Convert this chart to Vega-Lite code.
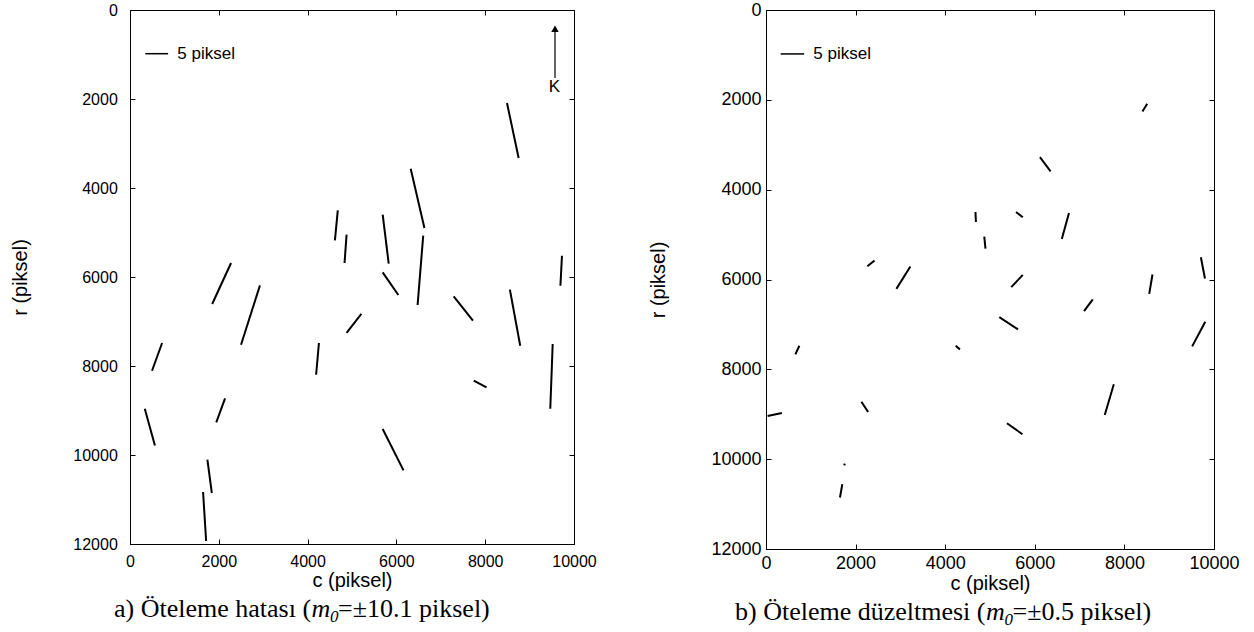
{
  "$schema": "https://vega.github.io/schema/vega-lite/v6.json",
  "autosize": {"type": "pad"},
  "padding": {"left": 10, "top": 0, "right": 0, "bottom": 0},
  "background": "white",
  "config": {
    "view": {"stroke": "#000", "strokeWidth": 1},
    "font": "Liberation Sans",
    "axis": {
      "grid": false,
      "labelFont": "Liberation Sans",
      "titleFont": "Liberation Sans",
      "labelColor": "#000",
      "titleColor": "#000",
      "domainColor": "#000",
      "tickColor": "#000",
      "titleFontWeight": "normal",
      "tickSize": -5,
      "labelFlush": false,
      "labelOverlap": false
    }
  },
  "datasets": {
    "a": [
      {"c1": 8491, "r1": 2090, "c2": 8753, "r2": 3326},
      {"c1": 6322, "r1": 3566, "c2": 6631, "r2": 4899},
      {"c1": 4680, "r1": 4503, "c2": 4615, "r2": 5178},
      {"c1": 4878, "r1": 5049, "c2": 4832, "r2": 5685},
      {"c1": 5691, "r1": 4600, "c2": 5827, "r2": 5701},
      {"c1": 6604, "r1": 5072, "c2": 6477, "r2": 6629},
      {"c1": 5691, "r1": 5897, "c2": 6043, "r2": 6404},
      {"c1": 9729, "r1": 5521, "c2": 9694, "r2": 6196},
      {"c1": 2276, "r1": 5685, "c2": 1851, "r2": 6607},
      {"c1": 2927, "r1": 6189, "c2": 2501, "r2": 7521},
      {"c1": 7290, "r1": 6436, "c2": 7724, "r2": 6982},
      {"c1": 8556, "r1": 6285, "c2": 8789, "r2": 7544},
      {"c1": 5211, "r1": 6831, "c2": 4878, "r2": 7258},
      {"c1": 723, "r1": 7483, "c2": 496, "r2": 8106},
      {"c1": 4255, "r1": 7483, "c2": 4192, "r2": 8196},
      {"c1": 9520, "r1": 7506, "c2": 9466, "r2": 8960},
      {"c1": 7742, "r1": 8330, "c2": 8030, "r2": 8481},
      {"c1": 2141, "r1": 8728, "c2": 1943, "r2": 9267},
      {"c1": 333, "r1": 8960, "c2": 561, "r2": 9785},
      {"c1": 5691, "r1": 9416, "c2": 6160, "r2": 10346},
      {"c1": 1743, "r1": 10106, "c2": 1843, "r2": 10854},
      {"c1": 1645, "r1": 10831, "c2": 1715, "r2": 11933}
    ],
    "b": [
      {"c1": 8509, "r1": 2089, "c2": 8403, "r2": 2260},
      {"c1": 6114, "r1": 3276, "c2": 6353, "r2": 3593},
      {"c1": 4675, "r1": 4498, "c2": 4686, "r2": 4720},
      {"c1": 5581, "r1": 4498, "c2": 5732, "r2": 4616},
      {"c1": 6763, "r1": 4520, "c2": 6603, "r2": 5098},
      {"c1": 4872, "r1": 5044, "c2": 4899, "r2": 5311},
      {"c1": 2423, "r1": 5578, "c2": 2263, "r2": 5704},
      {"c1": 3222, "r1": 5711, "c2": 2910, "r2": 6209},
      {"c1": 5732, "r1": 5898, "c2": 5474, "r2": 6171},
      {"c1": 8627, "r1": 5889, "c2": 8554, "r2": 6320},
      {"c1": 9707, "r1": 5504, "c2": 9798, "r2": 5978},
      {"c1": 7295, "r1": 6444, "c2": 7098, "r2": 6704},
      {"c1": 5208, "r1": 6838, "c2": 5626, "r2": 7111},
      {"c1": 9805, "r1": 6942, "c2": 9513, "r2": 7489},
      {"c1": 745, "r1": 7476, "c2": 655, "r2": 7667},
      {"c1": 4233, "r1": 7476, "c2": 4329, "r2": 7556},
      {"c1": 7764, "r1": 8333, "c2": 7561, "r2": 9016},
      {"c1": 35, "r1": 9038, "c2": 354, "r2": 8971},
      {"c1": 2130, "r1": 8720, "c2": 2279, "r2": 8949},
      {"c1": 5378, "r1": 9200, "c2": 5724, "r2": 9444},
      {"c1": 1731, "r1": 10111, "c2": 1773, "r2": 10127},
      {"c1": 1704, "r1": 10556, "c2": 1651, "r2": 10853}
    ],
    "one": [{}]
  },
  "spacing": 51,
  "hconcat": [
    {
      "width": 444,
      "height": 534,
      "resolve": {"axis": {"x": "independent", "y": "independent"}},
      "layer": [
        {
          "data": {"name": "a"},
          "mark": {"type": "rule", "color": "#000", "strokeWidth": 2},
          "encoding": {
            "x": {"field": "c1", "type": "quantitative", "scale": {"domain": [0, 10000], "nice": false, "zero": false},
                  "axis": {"orient": "bottom", "values": [0, 2000, 4000, 6000, 8000, 10000], "format": "d", "labelFontSize": 16, "labelPadding": 14, "title": "c (piksel)", "titleFontSize": 20, "titlePadding": 1}},
            "x2": {"field": "c2"},
            "y": {"field": "r1", "type": "quantitative", "scale": {"domain": [0, 12000], "reverse": true, "nice": false, "zero": false},
                  "axis": {"orient": "left", "values": [0, 2000, 4000, 6000, 8000, 10000, 12000], "format": "d", "labelFontSize": 16, "labelPadding": 17.7, "title": "r (piksel)", "titleFontSize": 20, "titlePadding": 42}},
            "y2": {"field": "r2"}
          }
        },
        {
          "data": {"name": "a"},
          "mark": {"type": "point", "opacity": 0},
          "encoding": {
            "x": {"field": "c1", "type": "quantitative", "scale": {"domain": [0, 10000], "nice": false, "zero": false},
                  "axis": {"orient": "top", "values": [0, 2000, 4000, 6000, 8000, 10000], "labels": false, "title": null}},
            "y": {"field": "r1", "type": "quantitative", "scale": {"domain": [0, 12000], "reverse": true, "nice": false, "zero": false},
                  "axis": {"orient": "right", "values": [0, 2000, 4000, 6000, 8000, 10000, 12000], "labels": false, "title": null}}
          }
        },
        {
          "data": {"name": "one"},
          "mark": {"type": "rule", "color": "#000", "strokeWidth": 1.5},
          "encoding": {
            "x": {"datum": 343, "type": "quantitative", "scale": {"domain": [0, 10000], "nice": false, "zero": false}, "axis": null},
            "x2": {"datum": 858},
            "y": {"datum": 982, "type": "quantitative", "scale": {"domain": [0, 12000], "reverse": true, "nice": false, "zero": false}, "axis": null}
          }
        },
        {
          "data": {"name": "one"},
          "mark": {"type": "text", "text": "5 piksel", "align": "left", "baseline": "middle", "fontSize": 17, "font": "Liberation Sans", "color": "#000"},
          "encoding": {
            "x": {"datum": 1066, "type": "quantitative", "scale": {"domain": [0, 10000], "nice": false, "zero": false}, "axis": null},
            "y": {"datum": 982, "type": "quantitative", "scale": {"domain": [0, 12000], "reverse": true, "nice": false, "zero": false}, "axis": null}
          }
        },
        {
          "data": {"name": "one"},
          "mark": {"type": "rule", "color": "#000", "strokeWidth": 1.2},
          "encoding": {
            "x": {"datum": 9572, "type": "quantitative", "scale": {"domain": [0, 10000], "nice": false, "zero": false}, "axis": null},
            "y": {"datum": 1530, "type": "quantitative", "scale": {"domain": [0, 12000], "reverse": true, "nice": false, "zero": false}, "axis": null},
            "y2": {"datum": 480}
          }
        },
        {
          "data": {"name": "one"},
          "mark": {"type": "point", "shape": "triangle-up", "filled": true, "color": "#000", "opacity": 1, "size": 55},
          "encoding": {
            "x": {"datum": 9572, "type": "quantitative", "scale": {"domain": [0, 10000], "nice": false, "zero": false}, "axis": null},
            "y": {"datum": 420, "type": "quantitative", "scale": {"domain": [0, 12000], "reverse": true, "nice": false, "zero": false}, "axis": null}
          }
        },
        {
          "data": {"name": "one"},
          "mark": {"type": "text", "text": "K", "align": "center", "baseline": "middle", "fontSize": 17, "font": "Liberation Sans", "color": "#000"},
          "encoding": {
            "x": {"datum": 9560, "type": "quantitative", "scale": {"domain": [0, 10000], "nice": false, "zero": false}, "axis": null},
            "y": {"datum": 1741, "type": "quantitative", "scale": {"domain": [0, 12000], "reverse": true, "nice": false, "zero": false}, "axis": null}
          }
        },
        {
          "data": {"name": "one"},
          "mark": {"type": "text", "text": "a) Öteleme hatası (", "align": "right", "baseline": "alphabetic", "fontSize": 26, "font": "Liberation Serif", "color": "#000"},
          "encoding": {
            "x": {"datum": 4078, "type": "quantitative", "scale": {"domain": [0, 10000], "nice": false, "zero": false}, "axis": null},
            "y": {"datum": 13650, "type": "quantitative", "scale": {"domain": [0, 12000], "reverse": true, "nice": false, "zero": false}, "axis": null}
          }
        },
        {
          "data": {"name": "one"},
          "mark": {"type": "text", "text": "m", "align": "left", "baseline": "alphabetic", "fontSize": 26, "fontStyle": "italic", "font": "Liberation Serif", "color": "#000", "dx": 0.5},
          "encoding": {
            "x": {"datum": 4078, "type": "quantitative", "scale": {"domain": [0, 10000], "nice": false, "zero": false}, "axis": null},
            "y": {"datum": 13650, "type": "quantitative", "scale": {"domain": [0, 12000], "reverse": true, "nice": false, "zero": false}, "axis": null}
          }
        },
        {
          "data": {"name": "one"},
          "mark": {"type": "text", "text": "0", "align": "left", "baseline": "alphabetic", "fontSize": 17, "fontStyle": "italic", "font": "Liberation Serif", "color": "#000", "dx": 19, "dy": 5},
          "encoding": {
            "x": {"datum": 4078, "type": "quantitative", "scale": {"domain": [0, 10000], "nice": false, "zero": false}, "axis": null},
            "y": {"datum": 13650, "type": "quantitative", "scale": {"domain": [0, 12000], "reverse": true, "nice": false, "zero": false}, "axis": null}
          }
        },
        {
          "data": {"name": "one"},
          "mark": {"type": "text", "text": "=±10.1 piksel)", "align": "left", "baseline": "alphabetic", "fontSize": 26, "font": "Liberation Serif", "color": "#000", "dx": 27},
          "encoding": {
            "x": {"datum": 4078, "type": "quantitative", "scale": {"domain": [0, 10000], "nice": false, "zero": false}, "axis": null},
            "y": {"datum": 13650, "type": "quantitative", "scale": {"domain": [0, 12000], "reverse": true, "nice": false, "zero": false}, "axis": null}
          }
        }
      ]
    },
    {
      "width": 448,
      "height": 539,
      "resolve": {"axis": {"x": "independent", "y": "independent"}},
      "layer": [
        {
          "data": {"name": "b"},
          "mark": {"type": "rule", "color": "#000", "strokeWidth": 2},
          "encoding": {
            "x": {"field": "c1", "type": "quantitative", "scale": {"domain": [0, 10000], "nice": false, "zero": false},
                  "axis": {"orient": "bottom", "values": [0, 2000, 4000, 6000, 8000, 10000], "format": "d", "labelFontSize": 18, "labelPadding": 10, "title": "c (piksel)", "titleFontSize": 20, "titlePadding": 1}},
            "x2": {"field": "c2"},
            "y": {"field": "r1", "type": "quantitative", "scale": {"domain": [0, 12000], "reverse": true, "nice": false, "zero": false},
                  "axis": {"orient": "left", "values": [0, 2000, 4000, 6000, 8000, 10000, 12000], "format": "d", "labelFontSize": 18, "labelPadding": 10, "title": "r (piksel)", "titleFontSize": 20, "titlePadding": 42}},
            "y2": {"field": "r2"}
          }
        },
        {
          "data": {"name": "b"},
          "mark": {"type": "point", "opacity": 0},
          "encoding": {
            "x": {"field": "c1", "type": "quantitative", "scale": {"domain": [0, 10000], "nice": false, "zero": false},
                  "axis": {"orient": "top", "values": [0, 2000, 4000, 6000, 8000, 10000], "labels": false, "title": null}},
            "y": {"field": "r1", "type": "quantitative", "scale": {"domain": [0, 12000], "reverse": true, "nice": false, "zero": false},
                  "axis": {"orient": "right", "values": [0, 2000, 4000, 6000, 8000, 10000, 12000], "labels": false, "title": null}}
          }
        },
        {
          "data": {"name": "one"},
          "mark": {"type": "rule", "color": "#000", "strokeWidth": 1.5},
          "encoding": {
            "x": {"datum": 328, "type": "quantitative", "scale": {"domain": [0, 10000], "nice": false, "zero": false}, "axis": null},
            "x2": {"datum": 852},
            "y": {"datum": 978, "type": "quantitative", "scale": {"domain": [0, 12000], "reverse": true, "nice": false, "zero": false}, "axis": null}
          }
        },
        {
          "data": {"name": "one"},
          "mark": {"type": "text", "text": "5 piksel", "align": "left", "baseline": "middle", "fontSize": 17, "font": "Liberation Sans", "color": "#000"},
          "encoding": {
            "x": {"datum": 1056, "type": "quantitative", "scale": {"domain": [0, 10000], "nice": false, "zero": false}, "axis": null},
            "y": {"datum": 978, "type": "quantitative", "scale": {"domain": [0, 12000], "reverse": true, "nice": false, "zero": false}, "axis": null}
          }
        },
        {
          "data": {"name": "one"},
          "mark": {"type": "text", "text": "b) Öteleme düzeltmesi (", "align": "right", "baseline": "alphabetic", "fontSize": 26, "font": "Liberation Serif", "color": "#000"},
          "encoding": {
            "x": {"datum": 4900, "type": "quantitative", "scale": {"domain": [0, 10000], "nice": false, "zero": false}, "axis": null},
            "y": {"datum": 13580, "type": "quantitative", "scale": {"domain": [0, 12000], "reverse": true, "nice": false, "zero": false}, "axis": null}
          }
        },
        {
          "data": {"name": "one"},
          "mark": {"type": "text", "text": "m", "align": "left", "baseline": "alphabetic", "fontSize": 26, "fontStyle": "italic", "font": "Liberation Serif", "color": "#000", "dx": 0.5},
          "encoding": {
            "x": {"datum": 4900, "type": "quantitative", "scale": {"domain": [0, 10000], "nice": false, "zero": false}, "axis": null},
            "y": {"datum": 13580, "type": "quantitative", "scale": {"domain": [0, 12000], "reverse": true, "nice": false, "zero": false}, "axis": null}
          }
        },
        {
          "data": {"name": "one"},
          "mark": {"type": "text", "text": "0", "align": "left", "baseline": "alphabetic", "fontSize": 17, "fontStyle": "italic", "font": "Liberation Serif", "color": "#000", "dx": 19, "dy": 5},
          "encoding": {
            "x": {"datum": 4900, "type": "quantitative", "scale": {"domain": [0, 10000], "nice": false, "zero": false}, "axis": null},
            "y": {"datum": 13580, "type": "quantitative", "scale": {"domain": [0, 12000], "reverse": true, "nice": false, "zero": false}, "axis": null}
          }
        },
        {
          "data": {"name": "one"},
          "mark": {"type": "text", "text": "=±0.5 piksel)", "align": "left", "baseline": "alphabetic", "fontSize": 26, "font": "Liberation Serif", "color": "#000", "dx": 27},
          "encoding": {
            "x": {"datum": 4900, "type": "quantitative", "scale": {"domain": [0, 10000], "nice": false, "zero": false}, "axis": null},
            "y": {"datum": 13580, "type": "quantitative", "scale": {"domain": [0, 12000], "reverse": true, "nice": false, "zero": false}, "axis": null}
          }
        }
      ]
    }
  ]
}
